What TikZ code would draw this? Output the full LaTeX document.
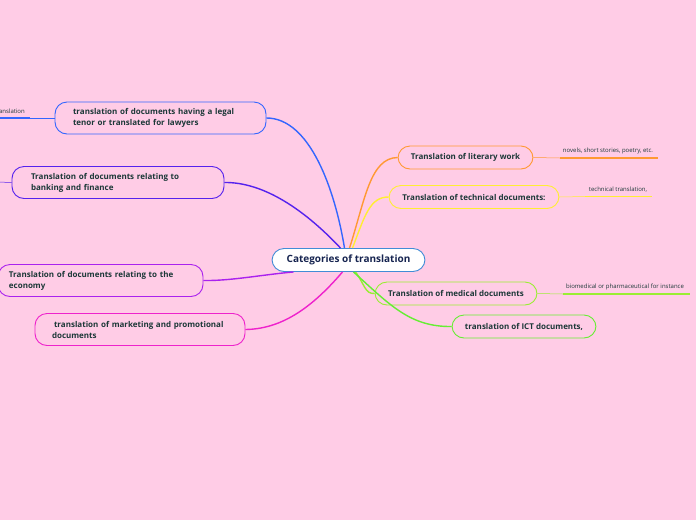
\documentclass[tikz,border=0pt]{standalone}
\usepackage{fontspec}
\setmainfont{Open Sans}
\begin{document}
\begin{tikzpicture}[x=1pt,y=-1pt,
  box/.style={draw, rounded corners=12pt, line width=0.9pt, font=\fontsize{8.0}{11}\selectfont\bfseries, text=txt, inner ysep=0pt},
  lbox/.style={box, align=left, minimum height=32pt},
  sbox/.style={box, minimum height=23pt, align=center},
  conn/.style={line width=1.4pt},
  thin/.style={line width=0.5pt},
  thick/.style={line width=1.5pt},
  lab/.style={font=\fontsize{6.0}{7}\selectfont, text=txt, inner sep=1pt, anchor=south}
]
\definecolor{bg}{RGB}{255,204,230}
\definecolor{txt}{RGB}{28,56,56}
\definecolor{navy}{RGB}{22,36,80}
\definecolor{cblue}{RGB}{51,102,255}
\definecolor{cindigo}{RGB}{85,34,238}
\definecolor{cpurple}{RGB}{170,34,238}
\definecolor{cmag}{RGB}{238,34,204}
\definecolor{corange}{RGB}{255,153,51}
\definecolor{cyellow}{RGB}{255,238,51}
\definecolor{clime}{RGB}{153,238,51}
\definecolor{cgreen}{RGB}{102,238,51}
\definecolor{cborder}{RGB}{66,140,214}
\fill[bg] (0,0) rectangle (696,520);
\useasboundingbox (0,0) rectangle (696,520);
\begin{scope}
\clip (0,0) rectangle (696,520);
% center
\node[box, fill=white, draw=cborder, text=navy, minimum width=153pt, minimum height=23pt,
  font=\fontsize{10}{12}\selectfont\bfseries] (c) at (348.5,260) {Categories of translation};
% left nodes
\node[lbox, draw=cblue, text width=175pt, inner xsep=18pt] (legal) at (160.5,118)
  {translation of documents having a legal\\tenor or translated for lawyers};
\node[lbox, draw=cindigo, text width=174pt, inner xsep=19pt] (bank) at (118,182.5)
  {Translation of documents relating to\\banking and finance};
\node[lbox, draw=cpurple, text width=183pt, inner xsep=11pt] (eco) at (100.5,280.5)
  {Translation of documents relating to the\\economy};
\node[lbox, draw=cmag, text width=176pt, inner xsep=17pt] (mkt) at (140,329.5)
  {\hspace{2pt}translation of marketing and promotional\\documents};
% right nodes
\node[sbox, draw=corange, minimum width=135pt] (lit) at (465.5,157.5) {Translation of literary work};
\node[sbox, draw=cyellow, minimum width=170pt] (tech) at (474,197) {Translation of technical documents:};
\node[sbox, draw=clime, minimum width=162pt] (med) at (456,293.5) {Translation of medical documents};
\node[sbox, draw=cgreen, minimum width=144pt] (ict) at (524,326.5) {translation of ICT documents,};
% connectors
\draw[conn, cblue] (c.north) ++(-4,0) coordinate (c1) .. controls (335,190) and (310,118) .. (legal.east);
\draw[conn, cindigo] (c.north) ++(-8,0) coordinate (c2) .. controls (300,205) and (260,182) .. (bank.east);
\draw[conn, cpurple] (c.south) ++(-55,0) coordinate (c3) .. controls (260,275) and (230,281) .. (eco.east);
\draw[conn, cmag] (c.south) ++(-6,0) coordinate (c4) .. controls (310,310) and (280,329) .. (mkt.east);
\draw[conn, corange] (c.north) ++(1,0) coordinate (c5) .. controls (365,200) and (370,158) .. (lit.west);
\draw[conn, cyellow] (c.north) ++(4,0) coordinate (c6) .. controls (365,215) and (370,197) .. (tech.west);
\draw[conn, clime] (c.south) ++(7,0) coordinate (c7) .. controls (365,285) and (365,294) .. (med.west);
\draw[conn, cgreen] (c.south) ++(5,0) coordinate (c8) .. controls (390,305) and (410,327) .. (ict.west);
% side branches
\coordinate (l1) at (560,158); \coordinate (l2) at (658,158);
\draw[thin, corange] (lit.east) -- (l1);
\draw[thick, corange] (l1) -- (l2);
\node[lab] (lt) at (608,155) {novels, short stories, poetry, etc.};
\coordinate (t1) at (585,196.5); \coordinate (t2) at (652,196.5);
\draw[thin, cyellow] (tech.east) -- (t1);
\draw[thick, cyellow] (t1) -- (t2);
\node[lab] (tt) at (618,193.5) {technical translation,};
\coordinate (m1) at (563,294); \coordinate (m2) at (690,294);
\draw[thin, clime] (med.east) -- (m1);
\draw[thick, clime] (m1) -- (m2);
\node[lab] (mt) at (625,291) {biomedical or pharmaceutical for instance};
\coordinate (g1) at (30,118); \coordinate (g0) at (-2,118);
\draw[thin, cblue] (legal.west) -- (g1);
\draw[thick, cblue] (g1) -- (g0);
\node[lab, anchor=south east] (gt) at (26,115) {translation};
\coordinate (b0) at (-2,182);
\draw[thin, cindigo] (bank.west) -- (b0);
\end{scope}
\end{tikzpicture}
\end{document}
